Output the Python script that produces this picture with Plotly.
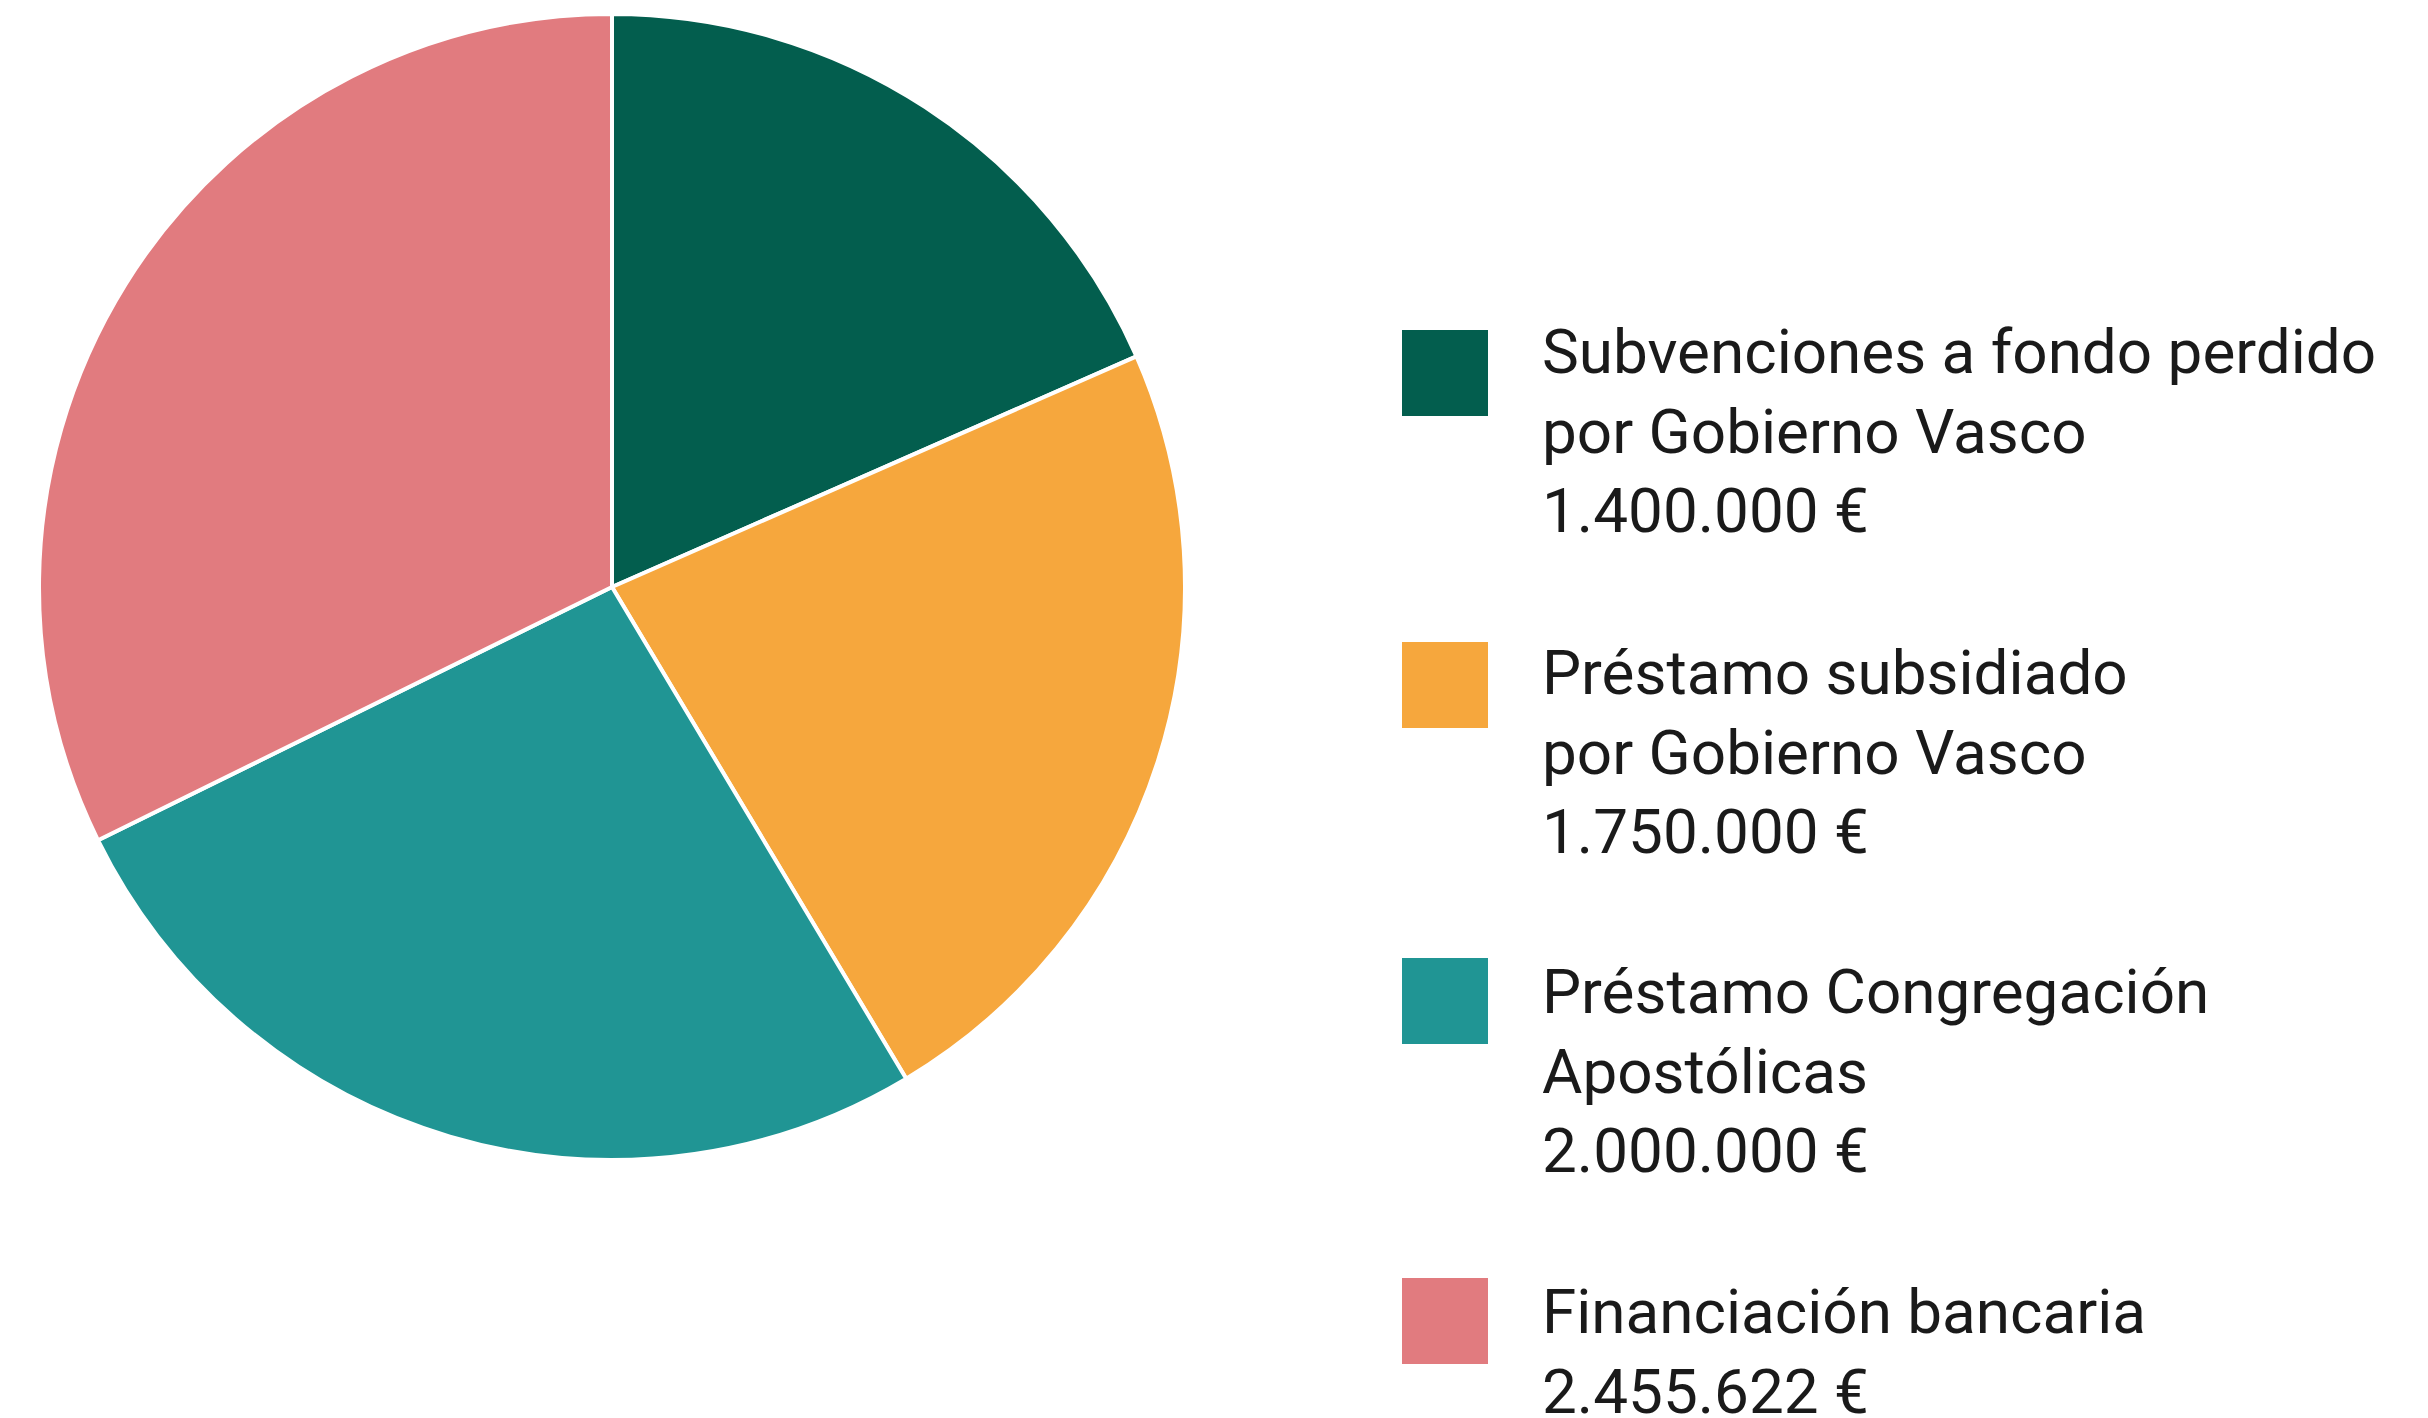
import plotly.graph_objects as go

labels = [
    "Subvenciones a fondo perdido<br>por Gobierno Vasco",
    "Préstamo subsidiado<br>por Gobierno Vasco",
    "Préstamo Congregación<br>Apostólicas",
    "Financiación bancaria",
]
values = [1400000, 1750000, 2000000, 2455622]
colors = ["#035E4E", "#F6A73D", "#209594", "#E17B7F"]

W, H = 2428, 1418
OFF = 8  # page body margin
FONT = "Roboto, Arial, sans-serif"
FS = 62

cx, cy, r = 612 - OFF, 587 - OFF, 573
fig = go.Figure(go.Pie(
    labels=labels,
    values=values,
    marker=dict(colors=colors, line=dict(color="white", width=4)),
    sort=False,
    direction="clockwise",
    rotation=0,
    textinfo="none",
    hoverinfo="label+value",
    showlegend=False,
    domain=dict(x=[(cx - r) / W, (cx + r) / W],
                y=[(H - cy - r) / H, (H - cy + r) / H]),
))

def fmt(v):
    return f"{v:,}".replace(",", ".") + " €"

# legend layout (page pixels)
sq_tops = [330, 642, 958, 1278]
first_baselines = [373, 694, 1013, 1333]
sq = 86
line_step = 79.5
base_to_mid = 0.345 * FS
x_sq, x_txt = 1402 - OFF, 1540 - OFF

shapes = []
annotations = []
for i, (lab, val, col) in enumerate(zip(labels, values, colors)):
    top = sq_tops[i] - OFF
    shapes.append(dict(type="rect", xref="paper", yref="paper",
                       x0=x_sq / W, x1=(x_sq + sq) / W,
                       y0=1 - top / H, y1=1 - (top + sq) / H,
                       fillcolor=col, line=dict(width=0)))
    lines = lab.split("<br>") + [fmt(val)]
    for j, t in enumerate(lines):
        yc = first_baselines[i] - OFF - base_to_mid + line_step * j
        annotations.append(dict(text=t, xref="paper", yref="paper",
                                x=x_txt / W, y=1 - yc / H,
                                xanchor="left", yanchor="middle",
                                showarrow=False,
                                font=dict(family=FONT, size=FS, color="#1a1a1a")))

fig.update_layout(
    width=W, height=H,
    margin=dict(l=0, r=0, t=0, b=0),
    paper_bgcolor="white", plot_bgcolor="white",
    shapes=shapes, annotations=annotations,
)

fig.write_html("out.html")
